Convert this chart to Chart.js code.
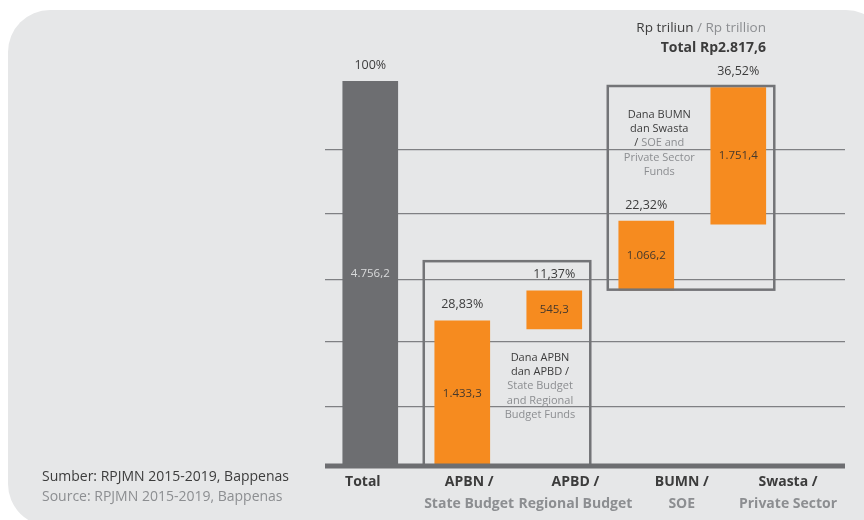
<!DOCTYPE html>
<html>
<head>
<meta charset="utf-8">
<script src="https://cdn.jsdelivr.net/npm/chart.js@4.4.1/dist/chart.umd.min.js"></script>
<style>
    html, body { margin: 0; padding: 0; background: #fff; }
    body { width: 864px; height: 520px; position: relative; overflow: hidden; font-family: 'Open Sans', sans-serif; }
    .panel { position: absolute; left: 8px; top: 10px; width: 880px; height: 516px; background: #e6e7e8; border-radius: 42px; }
    #chart { position: absolute; left: 0; top: 0; }
    .unit { position: absolute; right: 98px; top: 17px; text-align: right; font-size: 13.5px; line-height: 20px; color: #3c3c3c; white-space: nowrap; }
    .unit b { font-size: 14px; }
    .source { position: absolute; left: 42px; top: 466px; font-size: 14px; line-height: 20px; color: #3c3c3c; white-space: nowrap; }
    .grey { color: #8c8e91; }
</style>
</head>
<body>
<div class="panel"></div>
<canvas id="chart" width="864" height="520"></canvas>
<div class="unit">Rp triliun <span class="grey">/ Rp trillion</span><br><b>Total Rp2.817,6</b></div>
<div class="source">Sumber: RPJMN 2015-2019, Bappenas<br><span class="grey">Source: RPJMN 2015-2019, Bappenas</span></div>
<script>
// bars are drawn in "share of the total bar height" units
const categories = ['Total', 'APBN', 'APBD', 'BUMN', 'Swasta'];
const labelTop = ['Total', 'APBN /', 'APBD /', 'BUMN /', 'Swasta /'];
const labelBottom = ['', 'State Budget', 'Regional Budget', 'SOE', 'Private Sector'];
const barStart = [0, 0, 35.6, 45.7, 62.8];
const barEnd = [100, 37.7, 45.5, 63.6, 98.3];
const valueLabels = ['4.756,2', '1.433,3', '545,3', '1.066,2', '1.751,4'];
const shareLabels = ['100%', '28,83%', '11,37%', '22,32%', '36,52%'];
const gridValues = [15.3, 32.4, 48.5, 65.5, 82.2];

// the two framed groups
const boxFrom = [1, 3];
const boxTo = [2, 4];
const boxTop = [53.2, 98.7];
const boxBottom = [0, 45.8];

const noteLines = [
    [[['Dana APBN', 0]], [['dan APBD /', 0]], [['State Budget', 1]], [['and Regional', 1]], [['Budget Funds', 1]]],
    [[['Dana BUMN', 0]], [['dan Swasta', 0]], [['/ ', 0], ['SOE and', 1]], [['Private Sector', 1]], [['Funds', 1]]]
];
const noteTop = [28.1, 91.2];

const DARK = '#6d6e71';
const ORANGE = '#f68b1f';
const GRID = '#7f8083';
const TEXT = '#3c3c3c';
const GREY = '#8c8e91';
const FONT = '"Open Sans", sans-serif';

function drawSegments(ctx, segs, cx, cy) {
    const total = segs.reduce((w, s) => w + ctx.measureText(s[0]).width, 0);
    let x = cx - total / 2;
    ctx.textAlign = 'left';
    segs.forEach(s => {
        ctx.fillStyle = s[1] ? GREY : TEXT;
        ctx.fillText(s[0], x, cy);
        x += ctx.measureText(s[0]).width;
    });
}

const overlay = {
    id: 'overlay',
    afterDatasetsDraw(chart) {
        const ctx = chart.ctx;
        const { left, right, bottom } = chart.chartArea;
        const y = chart.scales.y;
        const xl = chart.scales.xl;
        const bars = chart.getDatasetMeta(0).data;
        ctx.save();

        const boxes = boxFrom.map((f, k) => {
            const a = bars[f], b = bars[boxTo[k]];
            return {
                l: a.x - a.width / 2 - 11,
                r: b.x + b.width / 2 + 8.5,
                t: y.getPixelForValue(boxTop[k]),
                b: y.getPixelForValue(boxBottom[k])
            };
        });
        ctx.strokeStyle = '#737477';
        ctx.lineWidth = 2.5;
        boxes.forEach(bx => ctx.strokeRect(bx.l, bx.t, bx.r - bx.l, bx.b - bx.t));

        ctx.fillStyle = DARK;
        ctx.fillRect(left, bottom - 2.5, right - left, 5);

        ctx.textBaseline = 'middle';
        ctx.textAlign = 'center';
        bars.forEach((bar, i) => {
            ctx.font = '12.5px ' + FONT;
            ctx.fillStyle = TEXT;
            ctx.fillText(shareLabels[i], bar.x, bar.y - 16);
            ctx.font = '11.5px ' + FONT;
            ctx.fillStyle = i === 0 ? '#d9dadb' : '#45392d';
            ctx.fillText(valueLabels[i], bar.x, (bar.y + bar.base) / 2);
        });

        ctx.font = 'bold 14px ' + FONT;
        categories.forEach((c, i) => {
            const px = xl.getPixelForValue(i);
            ctx.fillStyle = TEXT;
            ctx.fillText(labelTop[i], px, bottom + 16.5);
            ctx.fillStyle = GREY;
            ctx.fillText(labelBottom[i], px, bottom + 38);
        });

        const b1 = bars[1], b4 = bars[4];
        const noteX = [
            (b1.x + b1.width / 2 + boxes[0].r) / 2,
            (boxes[1].l + b4.x - b4.width / 2) / 2
        ];
        ctx.font = '11px ' + FONT;
        noteLines.forEach((lines, k) => {
            const top = y.getPixelForValue(noteTop[k]);
            lines.forEach((segs, j) => drawSegments(ctx, segs, noteX[k], top + j * 14.2));
        });
        ctx.restore();
    }
};

new Chart(document.getElementById('chart'), {
    type: 'bar',
    data: {
        datasets: [{
            data: categories.map((c, i) => ({ x: i, y: [barStart[i], barEnd[i]] })),
            backgroundColor: categories.map((c, i) => i === 0 ? DARK : ORANGE),
            barThickness: 55,
            xAxisID: 'x',
            yAxisID: 'y'
        }]
    },
    options: {
        responsive: false,
        animation: false,
        layout: { padding: { left: 325, right: 19, top: 81, bottom: 54 } },
        scales: {
            x: { type: 'linear', display: false, offset: false, min: -0.492, max: 5.16 },
            xl: { type: 'linear', axis: 'x', display: false, offset: false, min: -0.356, max: 4.536 },
            y: {
                min: 0,
                max: 100,
                afterBuildTicks: scale => { scale.ticks = gridValues.map(v => ({ value: v })); },
                ticks: { display: false },
                border: { display: false },
                grid: { color: GRID, lineWidth: 1.3, drawTicks: false }
            }
        },
        plugins: {
            legend: { display: false },
            tooltip: { enabled: false }
        }
    },
    plugins: [overlay]
});
</script>
</body>
</html>
